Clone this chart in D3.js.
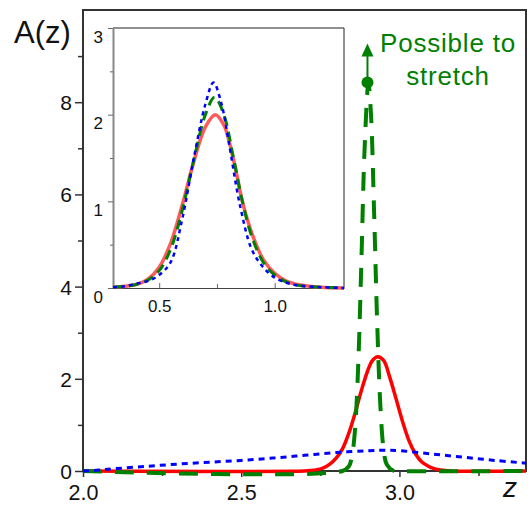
<!DOCTYPE html>
<html><head><meta charset="utf-8">
<script src="https://cdn.jsdelivr.net/npm/d3@7"></script>
<style>body{margin:0;background:#fff}svg{display:block;font-family:"Liberation Sans",Arial,sans-serif}</style>
</head><body><svg id="c" width="532" height="506"></svg>
<script>
// ---- main chart data ----
const xTicksMain = [2.0, 2.5, 3.0];
const xTickLabelsMain = ["2.0", "2.5", "3.0"];
const yTicksMain = [0, 2, 4, 6, 8];
const redMainX = [2.0, 2.70, 2.72, 2.74, 2.76, 2.78, 2.80, 2.82, 2.84, 2.86, 2.88, 2.90, 2.915, 2.931, 2.95, 2.97, 2.99, 3.01, 3.03, 3.05, 3.07, 3.09, 3.11, 3.13, 3.16, 3.40];
const redMainY = [0, 0, 0.01, 0.03, 0.07, 0.15, 0.28, 0.48, 0.82, 1.26, 1.75, 2.18, 2.40, 2.48, 2.40, 2.02, 1.55, 1.07, 0.66, 0.38, 0.20, 0.11, 0.05, 0.02, 0, 0];
const blueMainX = [2.0, 2.05, 2.10, 2.20, 2.30, 2.40, 2.50, 2.60, 2.70, 2.80, 2.90, 2.95, 3.00, 3.10, 3.20, 3.30, 3.40];
const blueMainY = [0.0, 0.02, 0.05, 0.10, 0.15, 0.19, 0.23, 0.28, 0.34, 0.40, 0.44, 0.45, 0.44, 0.37, 0.30, 0.23, 0.17];
const greenMainX = [2.0, 2.82, 2.84, 2.85, 2.86, 2.87, 2.88, 2.89, 2.902, 2.91, 2.92, 2.93, 2.94, 2.95, 2.96, 2.98, 3.00, 3.40];
const greenMainY = [0, 0, 0.10, 0.32, 0.93, 2.34, 4.6, 7.0, 8.4, 7.75, 5.6, 3.15, 1.38, 0.47, 0.14, 0.01, 0, 0];
const stretchPoint = [2.899, 8.43];
const annotation = ["Possible to", "stretch"];
// ---- inset data ----
const xTicksInset = [0.5, 1.0];
const xTickLabelsInset = ["0.5", "1.0"];
const yTicksInset = [0, 1, 2, 3];
const redInsetX = [0.30, 0.35, 0.40, 0.45, 0.50, 0.55, 0.60, 0.65, 0.70, 0.743, 0.78, 0.80, 0.83, 0.86, 0.90, 0.95, 1.00, 1.05, 1.10, 1.15, 1.20, 1.30];
const redInsetY = [0.01, 0.02, 0.04, 0.10, 0.24, 0.52, 0.96, 1.46, 1.86, 2.00, 1.88, 1.72, 1.38, 1.00, 0.64, 0.33, 0.17, 0.08, 0.04, 0.02, 0.01, 0.0];
const blueInsetX = [0.30, 0.35, 0.40, 0.45, 0.50, 0.55, 0.60, 0.65, 0.70, 0.735, 0.77, 0.80, 0.85, 0.90, 0.95, 1.00, 1.05, 1.10, 1.20, 1.30];
const blueInsetY = [0.01, 0.02, 0.05, 0.08, 0.15, 0.30, 0.80, 1.50, 2.12, 2.37, 2.12, 1.70, 0.95, 0.45, 0.24, 0.12, 0.06, 0.03, 0.01, 0.0];
const greenInsetX = [0.30, 0.35, 0.40, 0.45, 0.50, 0.55, 0.60, 0.65, 0.70, 0.74, 0.78, 0.82, 0.86, 0.90, 0.95, 1.00, 1.05, 1.10, 1.20, 1.30];
const greenInsetY = [0.01, 0.02, 0.04, 0.09, 0.20, 0.45, 0.90, 1.48, 2.00, 2.20, 2.00, 1.52, 1.00, 0.60, 0.30, 0.15, 0.07, 0.03, 0.01, 0.0];

const svg = d3.select("#c");
const RED = "#ff0000", BLUE = "#0000ff", GREEN = "#008000", AX = "#333";
const zip = (a, b) => a.map((v, i) => [v, b[i]]);

// main scales
const L = 83, R = 526, T = 10, B = 471;
const x = d3.scaleLinear().domain([2.0, 3.4]).range([L, R]);
const y = d3.scaleLinear().domain([0, 10]).range([B, T]);
const line = d3.line().x(d => x(d[0])).y(d => Math.min(B, y(d[1]))).curve(d3.curveCatmullRom.alpha(0.5));

// main axes
const gx = svg.append("g").attr("transform", `translate(0,${B})`)
  .call(d3.axisBottom(x).tickValues(xTicksMain).tickFormat((d, i) => xTickLabelsMain[i]).tickSize(6).tickSizeOuter(0));
svg.append("g").attr("transform", `translate(0,${B})`)
  .call(d3.axisBottom(x).tickValues([2.25, 2.75, 3.25]).tickFormat("").tickSize(5).tickSizeOuter(0))
  .call(g => g.select(".domain").remove());
const gy = svg.append("g").attr("transform", `translate(${L},0)`)
  .call(d3.axisLeft(y).tickValues(yTicksMain).tickFormat(d3.format("d")).tickSize(8).tickSizeOuter(0));
svg.append("g").attr("transform", `translate(${L},0)`)
  .call(d3.axisLeft(y).tickValues([1, 3, 5, 7, 9]).tickFormat("").tickSize(5).tickSizeOuter(0))
  .call(g => g.select(".domain").remove());
svg.selectAll(".tick line").attr("stroke", AX).attr("stroke-width", 1.5);
gx.selectAll("text").attr("font-size", 21.5).attr("fill", "#111").attr("y", 29).attr("dy", 0);
gy.selectAll("text").attr("font-size", 21).attr("fill", "#111").attr("dy", "0.36em");
svg.selectAll(".domain").remove();
// frame
svg.append("rect").attr("x", L).attr("y", T).attr("width", R - L).attr("height", B - T)
  .attr("fill", "none").attr("stroke", AX).attr("stroke-width", 2);

// main curves
svg.append("path").datum(zip(redMainX, redMainY)).attr("d", line)
  .attr("fill", "none").attr("stroke", RED).attr("stroke-width", 3.5);
svg.append("path").datum(zip(greenMainX, greenMainY)).attr("d", line)
  .attr("fill", "none").attr("stroke", GREEN).attr("stroke-width", 4).attr("stroke-dasharray", "19,13");
svg.append("path").datum(zip(blueMainX, blueMainY)).attr("d", line)
  .attr("fill", "none").attr("stroke", BLUE).attr("stroke-width", 3).attr("stroke-dasharray", "6,5");

// stretch arrow
const sx = x(stretchPoint[0]), sy = y(stretchPoint[1]);
svg.append("circle").attr("cx", sx).attr("cy", sy).attr("r", 6).attr("fill", GREEN);
svg.append("line").attr("x1", sx).attr("x2", sx).attr("y1", sy).attr("y2", sy - 27)
  .attr("stroke", GREEN).attr("stroke-width", 2);
svg.append("path").attr("d", `M${sx},${sy - 39} L${sx - 6},${sy - 26} L${sx + 6},${sy - 26} Z`).attr("fill", GREEN);
svg.append("text").attr("x", 448).attr("y", 52).attr("text-anchor", "middle").attr("letter-spacing", 0.8)
  .attr("font-size", 26).attr("fill", GREEN).text(annotation[0]);
svg.append("text").attr("x", 448).attr("y", 85).attr("text-anchor", "middle").attr("letter-spacing", 0.8)
  .attr("font-size", 26).attr("fill", GREEN).text(annotation[1]);

// axis titles
svg.append("text").attr("x", 14).attr("y", 43).attr("font-size", 31).attr("fill", "#111").text("A(z)");
svg.append("text").attr("x", 503).attr("y", 497).attr("font-size", 28).attr("font-style", "italic").attr("fill", "#111").text("z");

// ---- inset ----
const iL = 113, iR = 344, iT = 28, iB = 288;
const ix = d3.scaleLinear().domain([0.3, 1.3]).range([iL, iR]);
const iy = d3.scaleLinear().domain([0, 3]).range([iB, iT]);
const iline = d3.line().x(d => ix(d[0])).y(d => iy(d[1])).curve(d3.curveCatmullRom.alpha(0.5));
const inset = svg.append("g");
inset.append("rect").attr("x", iL).attr("y", iT).attr("width", iR - iL).attr("height", iB - iT).attr("fill", "#fff");
inset.append("path").attr("d", `M${iL},${iT} H${iR} V${iB}`).attr("fill", "none").attr("stroke", "#222").attr("stroke-width", 1);
const igx = inset.append("g").attr("transform", `translate(0,${iB})`)
  .call(d3.axisBottom(ix).tickValues(xTicksInset).tickFormat((d, i) => xTickLabelsInset[i]).tickSize(-5).tickSizeOuter(0));
inset.append("g").attr("transform", `translate(0,${iB})`)
  .call(d3.axisBottom(ix).tickValues([0.75]).tickFormat("").tickSize(-4).tickSizeOuter(0))
  .call(g => g.select(".domain").remove());
const igy = inset.append("g").attr("transform", `translate(${iL},0)`)
  .call(d3.axisLeft(iy).tickValues(yTicksInset).tickFormat(d3.format("d")).tickSize(5).tickSizeOuter(0));
inset.append("g").attr("transform", `translate(${iL},0)`)
  .call(d3.axisLeft(iy).tickValues([0.5, 1.5, 2.5]).tickFormat("").tickSize(3).tickSizeOuter(0))
  .call(g => g.select(".domain").remove());
igx.select(".domain").attr("stroke", "#444").attr("stroke-width", 1.2);
igy.select(".domain").attr("stroke", "#888").attr("stroke-width", 2);
inset.selectAll(".tick line").attr("stroke", "#666");
igx.selectAll("text").attr("font-size", 17).attr("fill", "#111").attr("y", 24).attr("dy", 0);
igy.selectAll("text").attr("font-size", 17).attr("fill", "#111").attr("y", 14).attr("dy", 0).attr("x", -10);

inset.append("path").datum(zip(redInsetX, redInsetY)).attr("d", iline)
  .attr("fill", "none").attr("stroke", "#ff5a5a").attr("stroke-width", 3.5);
inset.append("path").datum(zip(greenInsetX, greenInsetY)).attr("d", iline)
  .attr("fill", "none").attr("stroke", GREEN).attr("stroke-width", 3).attr("stroke-dasharray", "10,6");
inset.append("path").datum(zip(blueInsetX, blueInsetY)).attr("d", iline)
  .attr("fill", "none").attr("stroke", BLUE).attr("stroke-width", 2.5).attr("stroke-dasharray", "4,4");
</script></body></html>
